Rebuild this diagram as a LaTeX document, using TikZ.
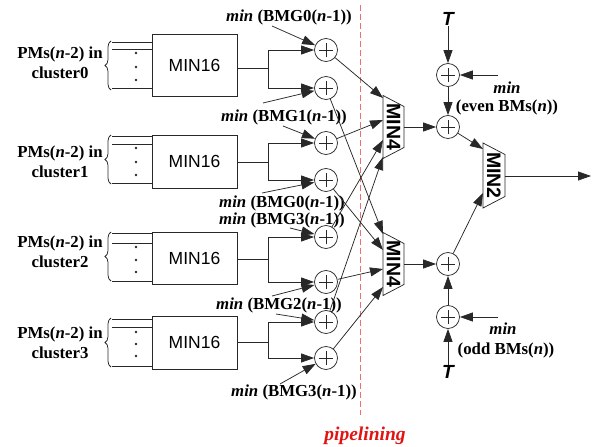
\documentclass[tikz,border=0pt]{standalone}
\usepackage{fontspec}
\setmainfont{Liberation Serif}
\setsansfont{Liberation Sans}
\usetikzlibrary{arrows.meta,decorations.pathreplacing}
\definecolor{ln}{RGB}{40,40,40}
\definecolor{pipe}{RGB}{240,110,110}
\definecolor{pipetxt}{RGB}{225,20,20}
\begin{document}
\begin{tikzpicture}[x=1pt,y=-1pt,
  line width=0.75pt, draw=ln,
  arr/.style={-{Triangle[length=13pt,width=9pt]}},
  lbl/.style={font=\fontsize{16.8}{20}\selectfont\bfseries, inner sep=0pt, align=center},
  boxmin/.style={draw=ln, minimum width=85pt, inner sep=0pt, font=\sffamily\fontsize{17.5}{20}\selectfont},
  adder/.style={circle, draw=ln, minimum size=23pt, inner sep=0pt,
    path picture={\draw[ln,line width=0.6pt] ([xshift=-7pt]path picture bounding box.center) -- ([xshift=7pt]path picture bounding box.center)
      ([yshift=-7pt]path picture bounding box.center) -- ([yshift=7pt]path picture bounding box.center);}},
  muxtxt/.style={font=\sffamily\bfseries\fontsize{19.5}{20}\selectfont, rotate=-90, inner sep=0pt},
  tlbl/.style={font=\sffamily\bfseries\itshape\fontsize{19}{20}\selectfont, inner sep=0pt},
  brc/.style={decorate, decoration={brace, amplitude=6pt}},
  dot/.style={fill=ln},
]
\useasboundingbox (0,0) rectangle (592,447);

% ---------- cluster 0 ----------
\node[boxmin, minimum height=62pt] (m0) at (194.5,65) {MIN16};
\node[lbl] (p0) at (60,63) {PMs(\textit{n}-2) in\\cluster0};
\draw[brc] (111,90) -- (111,41);
\draw (112,42) -- (m0.west |- 0,42);
\draw (112,49) -- (m0.west |- 0,49);
\draw (112,88) -- (m0.west |- 0,88);
\fill[dot] (136,53) circle (1.3pt) (136,67) circle (1.3pt) (136,80) circle (1.3pt);

% ---------- cluster 1 ----------
\node[boxmin, minimum height=53pt] (m1) at (194.5,161.5) {MIN16};
\node[lbl] (p1) at (60,162) {PMs(\textit{n}-2) in\\cluster1};
\draw[brc] (111,184) -- (111,135);
\draw (112,136) -- (m1.west |- 0,136);
\draw (112,144) -- (m1.west |- 0,144);
\draw (112,183) -- (m1.west |- 0,183);
\fill[dot] (136,148) circle (1.3pt) (136,162) circle (1.3pt) (136,175) circle (1.3pt);

% ---------- cluster 2 ----------
\node[boxmin, minimum height=52pt] (m2) at (194.5,258) {MIN16};
\node[lbl] (p2) at (60,252) {PMs(\textit{n}-2) in\\cluster2};
\draw[brc] (111,281) -- (111,232);
\draw (112,233) -- (m2.west |- 0,233);
\draw (112,243) -- (m2.west |- 0,243);
\draw (112,281) -- (m2.west |- 0,281);
\fill[dot] (136,247) circle (1.3pt) (136,260) circle (1.3pt) (136,272) circle (1.3pt);

% ---------- cluster 3 ----------
\node[boxmin, minimum height=53pt] (m3) at (194.5,342.5) {MIN16};
\node[lbl] (p3) at (60,343) {PMs(\textit{n}-2) in\\cluster3};
\draw[brc] (111,367) -- (111,318);
\draw (112,319) -- (m3.west |- 0,319);
\draw (112,327) -- (m3.west |- 0,327);
\draw (112,366) -- (m3.west |- 0,366);
\fill[dot] (136,332) circle (1.3pt) (136,344) circle (1.3pt) (136,356) circle (1.3pt);

% ---------- adders ----------
\node[adder] (a0) at (326,50) {};
\node[adder] (a1) at (326,88) {};
\node[adder] (a2) at (326,143) {};
\node[adder] (a3) at (326,180) {};
\node[adder] (a4) at (326,237) {};
\node[adder] (a5) at (326,282) {};
\node[adder] (a6) at (326,322) {};
\node[adder] (a7) at (326,358) {};

% branches
\coordinate (b0) at (268,68);
\coordinate (b1) at (268,162);
\coordinate (b2) at (268,259);
\coordinate (b3) at (268,342);
\draw (m0.east |- b0) -- (b0);
\draw (m1.east |- b1) -- (b1);
\draw (m2.east |- b2) -- (b2);
\draw (m3.east |- b3) -- (b3);
\draw[arr] (b0) |- (a0);
\draw[arr] (b0) |- (a1);
\draw[arr] (b1) |- (a2);
\draw[arr] (b1) |- (a3);
\draw[arr] (b2) |- (a4);
\draw[arr] (b2) |- (a5);
\draw[arr] (b3) |- (a6);
\draw[arr] (b3) |- (a7);

% min labels
\node[lbl] (g0) at (289,17) {\textit{min} (BMG0(\textit{n}-1))};
\node[lbl] (g1) at (284,117) {\textit{min} (BMG1(\textit{n}-1))};
\node[lbl] (g2) at (282,203.5) {\textit{min} (BMG0(\textit{n}-1))};
\node[lbl] (g3) at (282,220.5) {\textit{min} (BMG3(\textit{n}-1))};
\node[lbl] (g4) at (279,305) {\textit{min} (BMG2(\textit{n}-1))};
\node[lbl] (g5) at (294,392) {\textit{min} (BMG3(\textit{n}-1))};
\coordinate (s0) at (272,26);
\coordinate (s1) at (263,103);
\coordinate (s2) at (283,126);
\coordinate (s3) at (262,193);
\coordinate (s4) at (290,228);
\coordinate (s5) at (272,296);
\coordinate (s6) at (276,314);
\coordinate (s7) at (280,384);
\draw[arr] (s0) -- (a0);
\draw[arr] (s1) -- (a1);
\draw[arr] (s2) -- (a2);
\draw[arr] (s3) -- (a3);
\draw[arr] (s4) -- (a4);
\draw[arr] (s5) -- (a5);
\draw[arr] (s6) -- (a6);
\draw[arr] (s7) -- (a7);

% pipelining line
\draw[pipe, dashed, dash pattern=on 6pt off 3pt, line width=0.8pt] (360,5) -- (360,415);
\node[font=\fontsize{19.5}{20}\selectfont\bfseries\itshape, text=pipetxt, inner sep=0pt] (pl) at (365,436) {pipelining};

% ---------- MIN4 units ----------
\draw (383,95.5) -- (404,106.5) -- (404,147.5) -- (383,158.5) -- cycle;
\node[muxtxt] (mu) at (393.5,127) {MIN4};
\draw (383,232.5) -- (404,243.5) -- (404,284.5) -- (383,295.5) -- cycle;
\node[muxtxt] (md) at (393.5,264) {MIN4};
\coordinate (u1) at (383,98);
\coordinate (u2) at (383,120);
\coordinate (u3) at (383,140);
\coordinate (u4) at (383,157);
\coordinate (d1) at (383,234);
\coordinate (d2) at (383,250);
\coordinate (d3) at (383,269);
\coordinate (d4) at (383,287);
\coordinate (uo) at (404,127);
\coordinate (do) at (404,264);
\draw[arr] (a0) -- (u1);
\draw[arr] (a2) -- (u2);
\draw[arr] (a4) -- (u3);
\draw[arr] (a6) -- (u4);
\draw[arr] (a1) -- (d1);
\draw[arr] (a3) -- (d2);
\draw[arr] (a5) -- (d3);
\draw[arr] (a7) -- (d4);

% ---------- right part ----------
\node[adder] (r1) at (448,75) {};
\node[adder] (r2) at (448,127) {};
\node[adder] (r3) at (448,264) {};
\node[adder] (r4) at (448,317) {};
\node[tlbl] (t1) at (448,19) {T};
\node[tlbl] (t2) at (448,372) {T};
\coordinate (e1) at (498,75);
\coordinate (e2) at (498,317);
\node[lbl] (ev1) at (507,88) {\textit{min}};
\node[lbl] (ev2) at (507,107) {(even BMs(\textit{n}))};
\node[lbl] (od1) at (503,329) {\textit{min}};
\node[lbl] (od2) at (506,350) {(odd BMs(\textit{n}))};
\draw[arr] (t1) -- (r1);
\draw[arr] (e1) -- (r1);
\draw[arr] (r1) -- (r2);
\draw[arr] (uo) -- (r2);
\draw[arr] (t2) -- (r4);
\draw[arr] (e2) -- (r4);
\draw[arr] (r4) -- (r3);
\draw[arr] (do) -- (r3);

% MIN2
\draw (483,143) -- (505,154.5) -- (505,196.5) -- (483,208) -- cycle;
\node[muxtxt] (m2x) at (494,175.5) {MIN2};
\coordinate (v1) at (483,149);
\coordinate (v2) at (483,193);
\coordinate (vo) at (505,176);
\coordinate (out) at (591,176);
\draw[arr] (r2) -- (v1);
\draw[arr] (r3) -- (v2);
\draw[arr] (vo) -- (out);
\end{tikzpicture}
\end{document}
